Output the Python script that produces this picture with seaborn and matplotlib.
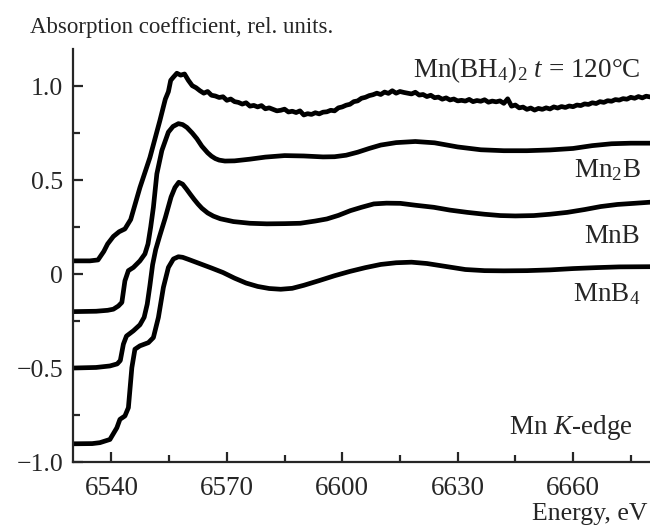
import numpy as np
import pandas as pd
import matplotlib
matplotlib.use("Agg")
import matplotlib.pyplot as plt
import seaborn as sns
from matplotlib.ticker import MultipleLocator, FixedLocator, FuncFormatter

# ====== DATA ======
# Mn(BH4)2, t = 120 C  (noisy spectrum)
e_bh4 = [6530, 6534.4, 6536.5, 6538, 6539, 6540.5, 6542, 6543.5, 6545, 6547.4,
         6550, 6552.6, 6554, 6554.8, 6555.4,
         6556, 6557, 6558, 6559, 6560, 6561, 6562, 6563, 6564, 6565, 6566, 6567,
         6568, 6569, 6570, 6571, 6572, 6573, 6574, 6575, 6576, 6577, 6578, 6579,
         6580, 6581, 6582, 6583, 6584, 6585, 6586, 6587, 6588, 6589, 6590, 6591,
         6592, 6593, 6594, 6595, 6596, 6597, 6598, 6599, 6600, 6601, 6602, 6603,
         6604, 6605, 6606, 6607, 6608, 6609, 6610, 6611, 6612, 6613, 6614, 6615,
         6616, 6617, 6618, 6619, 6620, 6621, 6622, 6623, 6624, 6625, 6626, 6627,
         6628, 6629, 6630, 6631, 6632, 6633, 6634, 6635, 6636, 6637, 6638, 6639,
         6640, 6641, 6642, 6643, 6644, 6645, 6646, 6647, 6648, 6649, 6650, 6651,
         6652, 6653, 6654, 6655, 6656, 6657, 6658, 6659, 6660, 6661, 6662, 6663,
         6664, 6665, 6666, 6667, 6668, 6669, 6670, 6671, 6672, 6673, 6674, 6675,
         6676, 6677, 6678, 6679, 6680]
mu_bh4 = [0.07, 0.07, 0.075, 0.12, 0.16, 0.20, 0.225, 0.24, 0.29, 0.46,
          0.62, 0.817, 0.93, 0.97, 1.03,
          1.045, 1.068, 1.058, 1.064, 1.030, 1.002, 0.991, 0.975, 0.962, 0.971, 0.951, 0.947,
          0.939, 0.943, 0.924, 0.931, 0.917, 0.913, 0.904, 0.911, 0.893, 0.897, 0.889, 0.896,
          0.879, 0.884, 0.876, 0.868, 0.871, 0.877, 0.862, 0.866, 0.859, 0.868, 0.846, 0.853,
          0.849, 0.858, 0.852, 0.861, 0.863, 0.871, 0.868, 0.884, 0.889, 0.898, 0.903, 0.917,
          0.921, 0.935, 0.940, 0.949, 0.954, 0.962, 0.955, 0.968, 0.961, 0.975, 0.962, 0.971,
          0.966, 0.962, 0.958, 0.967, 0.952, 0.955, 0.944, 0.951, 0.938, 0.941, 0.930, 0.937,
          0.926, 0.931, 0.921, 0.924, 0.920, 0.929, 0.917, 0.923, 0.919, 0.927, 0.914, 0.920,
          0.916, 0.921, 0.908, 0.932, 0.893, 0.899, 0.884, 0.888, 0.876, 0.883, 0.872, 0.881,
          0.876, 0.884, 0.878, 0.889, 0.883, 0.891, 0.886, 0.894, 0.890, 0.899, 0.896, 0.905,
          0.902, 0.911, 0.907, 0.917, 0.913, 0.922, 0.919, 0.928, 0.925, 0.933, 0.930, 0.940,
          0.935, 0.944, 0.937, 0.946, 0.942]

# Mn2B
e_mn2b = [6530, 6536, 6539, 6540.5, 6541.8, 6542.7, 6543.5, 6544.4, 6545.7, 6547.4,
          6548.7, 6549.5, 6550.2, 6550.9, 6551.8, 6553.1, 6554.8, 6556, 6557.4, 6558.5,
          6559.6, 6561, 6562.2, 6563.5, 6565, 6566, 6567, 6568, 6569.5, 6572, 6576, 6580,
          6585, 6590, 6595, 6598, 6601, 6604, 6607, 6610, 6614, 6619, 6624, 6630, 6636,
          6642, 6648, 6654, 6660, 6665, 6670, 6675, 6680]
mu_mn2b = [-0.20, -0.198, -0.193, -0.187, -0.17, -0.151, -0.036, 0.018, 0.035, 0.07,
           0.107, 0.16, 0.25, 0.355, 0.533, 0.657, 0.755, 0.785, 0.80, 0.795,
           0.78, 0.75, 0.72, 0.68, 0.645, 0.627, 0.614, 0.606, 0.601, 0.602, 0.611, 0.622,
           0.63, 0.628, 0.623, 0.624, 0.632, 0.648, 0.668, 0.686, 0.699, 0.705, 0.698, 0.676,
           0.661, 0.656, 0.656, 0.66, 0.668, 0.683, 0.693, 0.696, 0.696]

# MnB
e_mnb = [6530, 6536, 6539.6, 6541.5, 6542.3, 6543.1, 6543.9, 6545.7, 6547.4, 6548.5,
         6549.3, 6550.0, 6550.7, 6551.5, 6552.5, 6554, 6555.5, 6556.5, 6557.5, 6558.5,
         6559.5, 6560.5, 6561.5, 6562.5, 6563.5, 6565, 6566.5, 6568.3, 6571.7, 6576,
         6580.4, 6585, 6589.1, 6593, 6596, 6599, 6602.1, 6605, 6608.2, 6611.5, 6615.1,
         6619, 6623.8, 6628, 6632.5, 6637, 6641.1, 6645, 6649.8, 6654, 6658.5, 6663,
         6667.2, 6671.5, 6675.8, 6680]
mu_mnb = [-0.50, -0.497, -0.489, -0.478, -0.46, -0.373, -0.33, -0.302, -0.27, -0.23,
          -0.16, -0.06, 0.05, 0.13, 0.2, 0.3, 0.41, 0.46, 0.488, 0.478,
          0.452, 0.424, 0.397, 0.372, 0.35, 0.325, 0.308, 0.294, 0.279, 0.27,
          0.267, 0.268, 0.27, 0.282, 0.293, 0.312, 0.337, 0.355, 0.373, 0.377, 0.376,
          0.366, 0.355, 0.34, 0.328, 0.318, 0.311, 0.309, 0.311, 0.318, 0.328, 0.343,
          0.359, 0.37, 0.376, 0.382]

# MnB4
e_mnb4 = [6530, 6535, 6537, 6539.6, 6541.4, 6542.2, 6543.5, 6544.4, 6545.3, 6546.1,
          6547.4, 6549.6, 6550.9, 6552.2, 6553.5, 6554.8, 6556.1, 6557.4, 6558.5, 6560,
          6563, 6566, 6569, 6572, 6575, 6578, 6581, 6584, 6587, 6590, 6594, 6598, 6602,
          6606, 6610, 6614, 6618, 6622, 6627, 6632, 6637, 6642, 6648, 6654, 6660, 6666,
          6672, 6680]
mu_mnb4 = [-0.903, -0.902, -0.897, -0.88, -0.818, -0.773, -0.755, -0.711, -0.498, -0.40,
           -0.382, -0.365, -0.338, -0.231, -0.071, 0.035, 0.08, 0.092, 0.089, 0.078,
           0.055, 0.032, 0.008, -0.022, -0.048, -0.066, -0.077, -0.081, -0.076, -0.06,
           -0.035, -0.009, 0.014, 0.034, 0.051, 0.06, 0.063, 0.056, 0.04, 0.024, 0.018,
           0.017, 0.018, 0.022, 0.029, 0.034, 0.038, 0.039]

x_ticks = [6540, 6570, 6600, 6630, 6660]
y_ticks = [-1.0, -0.5, 0, 0.5, 1.0]
y_tick_labels = ["\u22121.0", "\u22120.5", "0", "0.5", "1.0"]

# ====== STYLE ======
sns.set_style("ticks")
plt.rcParams["font.family"] = ["Liberation Serif", "DejaVu Serif"]
plt.rcParams["mathtext.fontset"] = "custom"
plt.rcParams["mathtext.rm"] = "Liberation Serif"
plt.rcParams["mathtext.it"] = "Liberation Serif:italic"

fig = plt.figure(figsize=(6.5, 5.27), dpi=100)
ax = fig.add_axes([0.1123, 0.1233, 0.8877, 0.783])

curves = [(e_bh4, mu_bh4), (e_mn2b, mu_mn2b), (e_mnb, mu_mnb), (e_mnb4, mu_mnb4)]
for e, mu in curves:
    df = pd.DataFrame({"E": e, "mu": mu})
    sns.lineplot(data=df, x="E", y="mu", ax=ax, color="black", lw=3.4,
                 estimator=None, sort=False, solid_joinstyle="round",
                 solid_capstyle="round")

ax.set_xlim(6530, 6680)
ax.set_ylim(-1.0, 1.195)
ax.set_xlabel("")
ax.set_ylabel("")

sns.despine(ax=ax)
for s in ["left", "bottom"]:
    ax.spines[s].set_linewidth(1.6)

ax.xaxis.set_major_locator(FixedLocator(x_ticks))
ax.xaxis.set_minor_locator(MultipleLocator(15))
ax.yaxis.set_major_locator(FixedLocator(y_ticks))
ax.yaxis.set_minor_locator(MultipleLocator(0.25))
ax.yaxis.set_major_formatter(FuncFormatter(
    lambda v, p: dict(zip(y_ticks, y_tick_labels)).get(round(v, 2), "")))

ax.tick_params(which="major", direction="in", length=7, width=1.6, labelsize=18.5)
ax.tick_params(which="minor", direction="in", length=5, width=1.6)
ax.tick_params(axis="x", which="major", pad=10, labelsize=19.5)
ax.tick_params(axis="y", which="major", pad=7)

# curve labels
ax.text(6677.5, 1.048, r"Mn(BH$_4$)$_2$ $t$ = 120°C", ha="right", va="baseline", fontsize=19.5)
ax.text(6677.5, 0.515, r"Mn$_2$B", ha="right", va="baseline", fontsize=19.5)
ax.text(6677.5, 0.163, "MnB", ha="right", va="baseline", fontsize=19.5)
ax.text(6677.5, -0.142, r"MnB$_4$", ha="right", va="baseline", fontsize=19.5)
ax.text(6675.5, -0.852, r"Mn $K$-edge", ha="right", va="baseline", fontsize=19.5)

fig.text(30 / 650, 1 - 33 / 527, "Absorption coefficient, rel. units.",
         ha="left", va="baseline", fontsize=16.5)
fig.text(648 / 650, 7 / 527, "Energy, eV", ha="right", va="baseline", fontsize=18.5)

fig.savefig("out.png", dpi=100)
